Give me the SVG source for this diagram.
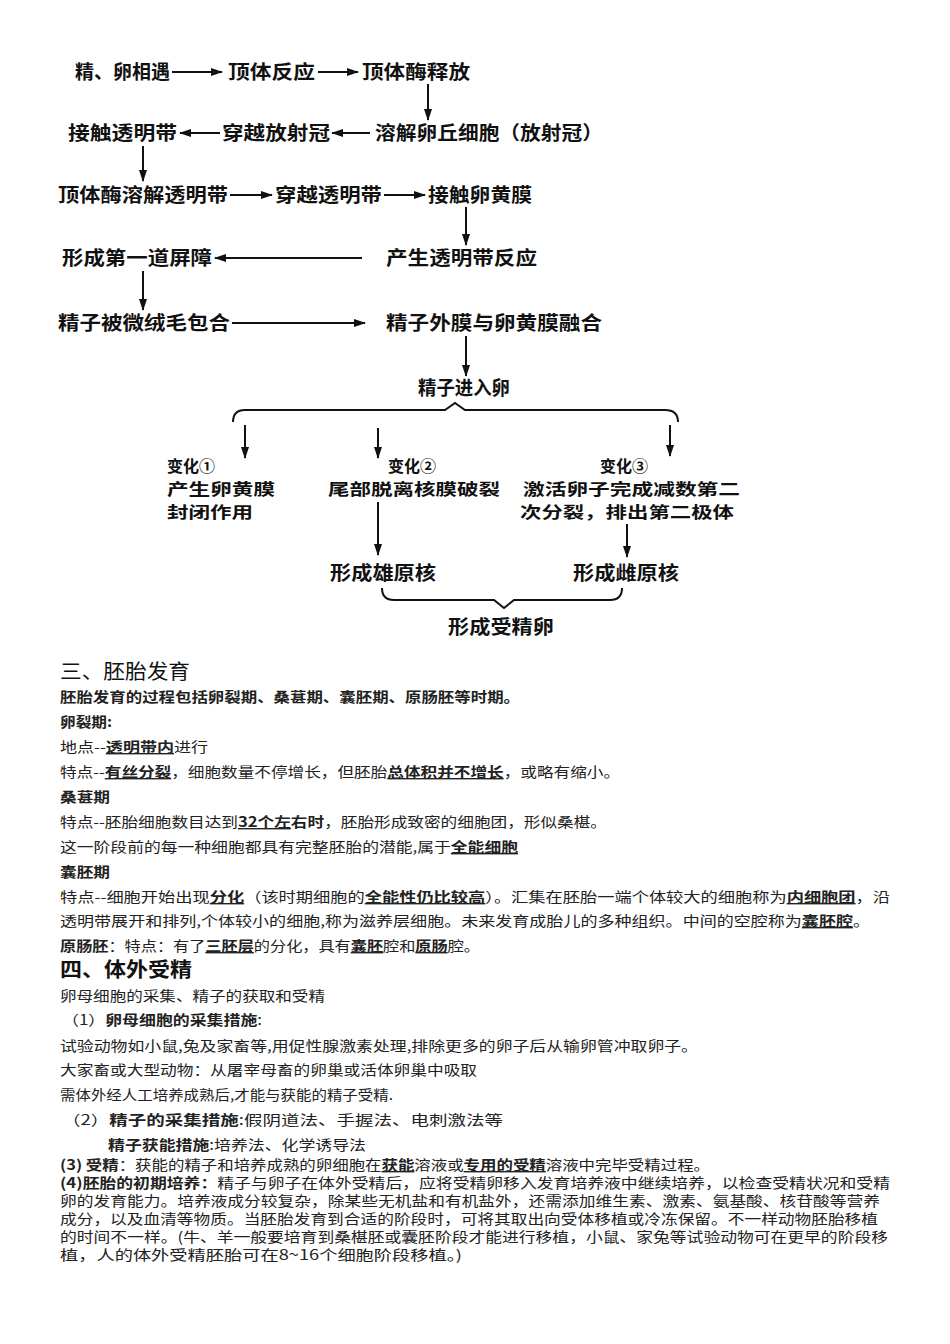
<svg xmlns="http://www.w3.org/2000/svg" width="950" height="1344" viewBox="0 0 950 1344">
<defs>
<marker id="ah" markerWidth="12" markerHeight="8" refX="11" refY="4" orient="auto" markerUnits="userSpaceOnUse"><path d="M0,0 L12,4 L0,8 Z" fill="#111"/></marker>
<style>
.n{font-family:"Noto Sans CJK SC","Liberation Sans",sans-serif;font-size:19px;font-weight:bold;fill:#111}
.s{font-size:16px}
.t{font-family:"Noto Sans CJK SC","Liberation Sans",sans-serif;font-size:14px;fill:#222}
.h{font-family:"Noto Sans CJK SC","Liberation Sans",sans-serif;font-size:20px;fill:#111}
.b{font-weight:bold}
.u{font-weight:bold;text-decoration:underline}
.c{stroke:#111;stroke-width:2;fill:none}
.a{stroke:#111;stroke-width:2;fill:none;marker-end:url(#ah)}
</style>
</defs>
<rect width="950" height="1344" fill="#fff"/>
<g id="connectors">
<line class="a" x1="172" y1="72" x2="222" y2="72"/>
<line class="a" x1="318" y1="72" x2="358" y2="72"/>
<line class="a" x1="428" y1="84" x2="428" y2="120"/>
<line class="a" x1="220" y1="133" x2="180" y2="133"/>
<line class="a" x1="370" y1="133" x2="332" y2="133"/>
<line class="a" x1="143" y1="146" x2="143" y2="181"/>
<line class="a" x1="230" y1="195" x2="272" y2="195"/>
<line class="a" x1="384" y1="195" x2="425" y2="195"/>
<line class="a" x1="466" y1="207" x2="466" y2="245"/>
<line class="a" x1="362" y1="258" x2="215" y2="258"/>
<line class="a" x1="143" y1="271" x2="143" y2="310"/>
<line class="a" x1="232" y1="323" x2="365" y2="323"/>
<line class="a" x1="466" y1="336" x2="466" y2="376"/>
<path class="c" d="M233,422 Q233,410 245,410 L445,410 L455,403 L465,410 L665,410 Q678,410 678,422"/>
<line class="a" x1="245" y1="425" x2="245" y2="458"/>
<line class="a" x1="378" y1="428" x2="378" y2="458"/>
<line class="a" x1="670" y1="425" x2="670" y2="456"/>
<line class="a" x1="378" y1="502" x2="378" y2="555"/>
<line class="a" x1="627" y1="524" x2="627" y2="557"/>
<path class="c" d="M382,588 Q382,600 394,600 L494,600 L504,608 L514,600 L610,600 Q622,600 622,588"/>
</g>
<g id="n1"><text class="n" x="75" y="79" textLength="95" lengthAdjust="spacingAndGlyphs">精、卵相遇</text></g>
<g id="n2"><text class="n" x="228" y="79" textLength="87" lengthAdjust="spacingAndGlyphs">顶体反应</text></g>
<g id="n3"><text class="n" x="362" y="79" textLength="108" lengthAdjust="spacingAndGlyphs">顶体酶释放</text></g>
<g id="n4"><text class="n" x="375" y="140" textLength="228" lengthAdjust="spacingAndGlyphs">溶解卵丘细胞（放射冠）</text></g>
<g id="n5"><text class="n" x="222" y="140" textLength="108" lengthAdjust="spacingAndGlyphs">穿越放射冠</text></g>
<g id="n6"><text class="n" x="68" y="140" textLength="109" lengthAdjust="spacingAndGlyphs">接触透明带</text></g>
<g id="n7"><text class="n" x="58" y="202" textLength="170" lengthAdjust="spacingAndGlyphs">顶体酶溶解透明带</text></g>
<g id="n8"><text class="n" x="275" y="202" textLength="107" lengthAdjust="spacingAndGlyphs">穿越透明带</text></g>
<g id="n9"><text class="n" x="428" y="202" textLength="104" lengthAdjust="spacingAndGlyphs">接触卵黄膜</text></g>
<g id="n10"><text class="n" x="386" y="265" textLength="151" lengthAdjust="spacingAndGlyphs">产生透明带反应</text></g>
<g id="n11"><text class="n" x="62" y="265" textLength="150" lengthAdjust="spacingAndGlyphs">形成第一道屏障</text></g>
<g id="n12"><text class="n" x="58" y="330" textLength="172" lengthAdjust="spacingAndGlyphs">精子被微绒毛包合</text></g>
<g id="n13"><text class="n" x="386" y="330" textLength="216" lengthAdjust="spacingAndGlyphs">精子外膜与卵黄膜融合</text></g>
<g id="n14"><text class="n" x="418" y="395" textLength="92" lengthAdjust="spacingAndGlyphs">精子进入卵</text></g>
<g id="n15"><text class="n s" x="167" y="472">变化①</text><text class="n s" x="167" y="495" textLength="108" lengthAdjust="spacingAndGlyphs">产生卵黄膜</text><text class="n s" x="167" y="518" textLength="86" lengthAdjust="spacingAndGlyphs">封闭作用</text></g>
<g id="n16"><text class="n s" x="388" y="472">变化②</text><text class="n s" x="328" y="495" textLength="172" lengthAdjust="spacingAndGlyphs">尾部脱离核膜破裂</text></g>
<g id="n17"><text class="n s" x="600" y="472">变化③</text><text class="n s" x="523" y="495" textLength="217" lengthAdjust="spacingAndGlyphs">激活卵子完成减数第二</text><text class="n s" x="520" y="518" textLength="214" lengthAdjust="spacingAndGlyphs">次分裂，排出第二极体</text></g>
<g id="n18"><text class="n" x="330" y="580" textLength="106" lengthAdjust="spacingAndGlyphs">形成雄原核</text></g>
<g id="n19"><text class="n" x="573" y="580" textLength="106" lengthAdjust="spacingAndGlyphs">形成雌原核</text></g>
<g id="n20"><text class="n" x="448" y="634" textLength="106" lengthAdjust="spacingAndGlyphs">形成受精卵</text></g>
<g id="textbody">
<text class="h" x="60" y="679" textLength="130" lengthAdjust="spacingAndGlyphs">三、胚胎发育</text>
<text class="t b" x="60" y="702" textLength="460" lengthAdjust="spacingAndGlyphs">胚胎发育的过程包括卵裂期、桑葚期、囊胚期、原肠胚等时期。</text>
<text class="t b" x="60" y="727" textLength="52" lengthAdjust="spacingAndGlyphs">卵裂期:</text>
<text class="t" x="60" y="752" textLength="148" lengthAdjust="spacingAndGlyphs">地点--<tspan class="u">透明带内</tspan>进行</text>
<text class="t" x="60" y="777" textLength="560" lengthAdjust="spacingAndGlyphs">特点--<tspan class="u">有丝分裂</tspan>，细胞数量不停增长，但胚胎<tspan class="u">总体积并不增长</tspan>，或略有缩小。</text>
<text class="t b" x="60" y="802" textLength="50" lengthAdjust="spacingAndGlyphs">桑葚期</text>
<text class="t" x="60" y="827" textLength="547" lengthAdjust="spacingAndGlyphs">特点--胚胎细胞数目达到<tspan class="u">32个左</tspan><tspan class="b">右时</tspan>，胚胎形成致密的细胞团，形似桑椹。</text>
<text class="t" x="60" y="852" textLength="458" lengthAdjust="spacingAndGlyphs">这一阶段前的每一种细胞都具有完整胚胎的潜能,属于<tspan class="u">全能细胞</tspan></text>
<text class="t b" x="60" y="877" textLength="50" lengthAdjust="spacingAndGlyphs">囊胚期</text>
<text class="t" x="60" y="902" textLength="830" lengthAdjust="spacingAndGlyphs">特点--细胞开始出现<tspan class="u">分化</tspan>（该时期细胞的<tspan class="u">全能性仍比较高</tspan>）。汇集在胚胎一端个体较大的细胞称为<tspan class="u">内细胞团</tspan>，沿</text>
<text class="t" x="60" y="926" textLength="810" lengthAdjust="spacingAndGlyphs">透明带展开和排列,个体较小的细胞,称为滋养层细胞。未来发育成胎儿的多种组织。中间的空腔称为<tspan class="u">囊胚腔</tspan>。</text>
<text class="t" x="60" y="951" textLength="420" lengthAdjust="spacingAndGlyphs"><tspan class="b">原肠胚</tspan>：特点：有了<tspan class="u">三胚层</tspan>的分化，具有<tspan class="u">囊胚</tspan>腔和<tspan class="u">原肠</tspan>腔。</text>
<text class="h b" x="60" y="977" textLength="132" lengthAdjust="spacingAndGlyphs">四、体外受精</text>
<text class="t" x="60" y="1001" textLength="265" lengthAdjust="spacingAndGlyphs">卵母细胞的采集、精子的获取和受精</text>
<text class="t" x="62" y="1025" textLength="200" lengthAdjust="spacingAndGlyphs">（1）<tspan class="b">卵母细胞的采集措施</tspan>:</text>
<text class="t" x="60" y="1051" textLength="638" lengthAdjust="spacingAndGlyphs">试验动物如小鼠,兔及家畜等,用促性腺激素处理,排除更多的卵子后从输卵管冲取卵子。</text>
<text class="t" x="60" y="1075" textLength="417" lengthAdjust="spacingAndGlyphs">大家畜或大型动物：从屠宰母畜的卵巢或活体卵巢中吸取</text>
<text class="t" x="60" y="1100" textLength="333" lengthAdjust="spacingAndGlyphs">需体外经人工培养成熟后,才能与获能的精子受精.</text>
<text class="t" x="62" y="1125" textLength="441" lengthAdjust="spacingAndGlyphs">（2）<tspan class="b">精子的采集措施</tspan>:假阴道法、手握法、电刺激法等</text>
<text class="t" x="108" y="1150" textLength="258" lengthAdjust="spacingAndGlyphs"><tspan class="b">精子获能措施</tspan>:培养法、化学诱导法</text>
<text class="t" x="60" y="1170" textLength="650" lengthAdjust="spacingAndGlyphs"><tspan class="b">(3) 受精</tspan>：获能的精子和培养成熟的卵细胞在<tspan class="u">获能</tspan>溶液或<tspan class="u">专用的受精</tspan>溶液中完毕受精过程。</text>
<text class="t" x="60" y="1188" textLength="830" lengthAdjust="spacingAndGlyphs"><tspan class="b">(4)胚胎的初期培养：</tspan>精子与卵子在体外受精后，应将受精卵移入发育培养液中继续培养，以检查受精状况和受精</text>
<text class="t" x="60" y="1206" textLength="820" lengthAdjust="spacingAndGlyphs">卵的发育能力。培养液成分较复杂，除某些无机盐和有机盐外，还需添加维生素、激素、氨基酸、核苷酸等营养</text>
<text class="t" x="60" y="1224" textLength="818" lengthAdjust="spacingAndGlyphs">成分，以及血清等物质。当胚胎发育到合适的阶段时，可将其取出向受体移植或冷冻保留。不一样动物胚胎移植</text>
<text class="t" x="60" y="1242" textLength="828" lengthAdjust="spacingAndGlyphs">的时间不一样。(牛、羊一般要培育到桑椹胚或囊胚阶段才能进行移植，小鼠、家兔等试验动物可在更早的阶段移</text>
<text class="t" x="60" y="1260" textLength="402" lengthAdjust="spacingAndGlyphs">植，人的体外受精胚胎可在8~16个细胞阶段移植。)</text>
</g>
</svg>
